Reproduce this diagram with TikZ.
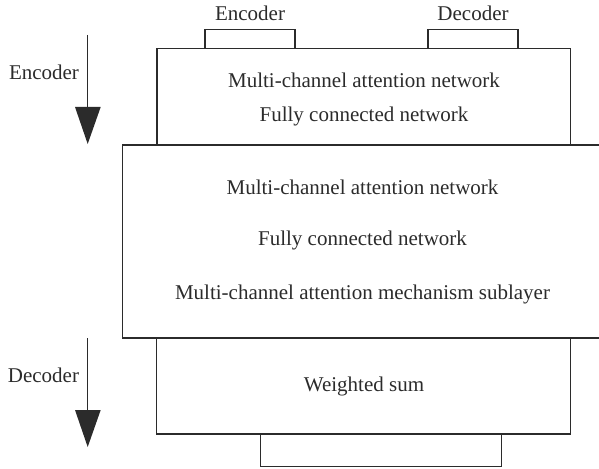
\documentclass[tikz,border=0pt]{standalone}
\usepackage{fontspec}
\setmainfont{Liberation Serif}
\definecolor{ink}{HTML}{2B2B2B}
\begin{document}
\begin{tikzpicture}[x=1pt,y=-1pt,
  box/.style={draw=ink,line width=1.2pt},
  lbl/.style={text=ink,font=\fontsize{21}{23}\selectfont,inner sep=0pt},
  shaft/.style={draw=ink,line width=1.2pt},
  head/.style={fill=ink,draw=none}]
\useasboundingbox (0,0) rectangle (599,468);
% tabs on top
\draw[box] (205,48) -- (205,29.3) -- (295,29.3) -- (295,48);
\draw[box] (428,48) -- (428,29.3) -- (518,29.3) -- (518,48);
\node[lbl] (encT) at (250,13) {Encoder};
\node[lbl] (decT) at (473,13) {Decoder};
% top box
\draw[box] (157,145) -- (157,48.3) -- (570.7,48.3) -- (570.7,145);
\node[lbl] (t1) at (364,80) {Multi-channel attention network};
\node[lbl] (t2) at (364,116) {Fully connected network};
% middle box (runs past right edge)
\draw[box] (599,145) -- (122.3,145) -- (122.3,338) -- (599,338);
\node[lbl] (m1) at (362.5,187) {Multi-channel attention network};
\node[lbl] (m2) at (362.5,240) {Fully connected network};
\node[lbl] (m3) at (362.5,294) {Multi-channel attention mechanism sublayer};
% lower box
\draw[box] (156.7,338) -- (156.7,434) -- (570.7,434) -- (570.7,338);
\node[lbl] (w1) at (364,386) {Weighted sum};
% bottom tab
\draw[box] (260.7,434) -- (260.7,466.5) -- (501.7,466.5) -- (501.7,434);
% left arrows
\coordinate (ea) at (87.7,35);
\coordinate (eb) at (87.7,108);
\draw[shaft] (ea) -- (eb);
\fill[head] (75,107) -- (100.7,107) -- (87.7,144) -- cycle;
\node[lbl] (encL) at (44,72) {Encoder};
\coordinate (da) at (87.7,338);
\coordinate (db) at (87.7,411);
\draw[shaft] (da) -- (db);
\fill[head] (75,410) -- (100.7,410) -- (87.7,447) -- cycle;
\node[lbl] (decL) at (43.5,375) {Decoder};
\end{tikzpicture}
\end{document}
